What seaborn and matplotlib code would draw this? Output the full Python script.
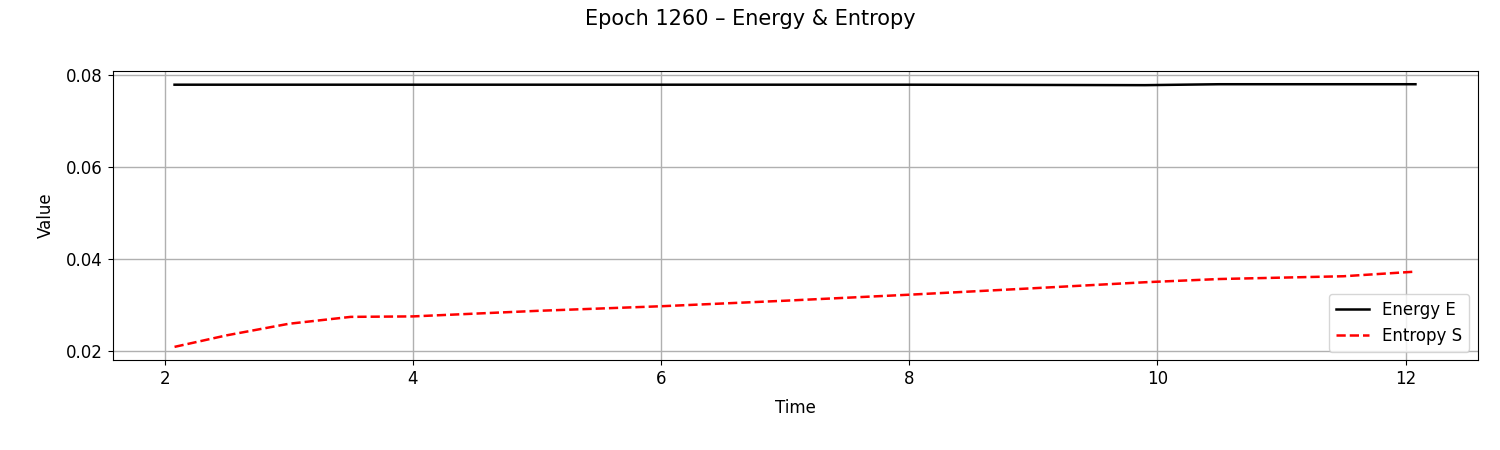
import numpy as np
import pandas as pd
import matplotlib
matplotlib.use("Agg")
import matplotlib.pyplot as plt
from matplotlib.ticker import MultipleLocator
import seaborn as sns

time = [2.08, 2.5, 3.0, 3.5, 4.0, 5.0, 6.0, 7.0, 8.0, 9.0, 9.9, 10.5, 11.0, 11.5, 12.08]
energy = [0.0778, 0.0778, 0.0778, 0.0778, 0.0778, 0.0778, 0.0778, 0.0778, 0.0778, 0.07775,
          0.0777, 0.0779, 0.0779, 0.0779, 0.0779]
entropy = [0.021, 0.0235, 0.026, 0.0275, 0.0276, 0.0288, 0.0298, 0.031, 0.0323, 0.0337,
           0.035, 0.0357, 0.036, 0.0363, 0.0373]

df = pd.DataFrame({"Time": time, "Energy E": energy, "Entropy S": entropy})

fig, ax = plt.subplots(figsize=(15, 4.5), dpi=100)
sns.lineplot(data=df, x="Time", y="Energy E", ax=ax, color="black", lw=1.8, label="Energy E")
sns.lineplot(data=df, x="Time", y="Entropy S", ax=ax, color="red", lw=1.8, ls="--", label="Entropy S")
ax.yaxis.set_major_locator(MultipleLocator(0.02))
ax.set_xlabel("Time", fontsize=12, labelpad=8)
ax.set_ylabel("Value", fontsize=12, labelpad=8)
ax.tick_params(labelsize=12)
ax.grid(True, color="#b0b0b0", lw=1)
ax.legend(loc="lower right", fontsize=12)
fig.suptitle("Epoch 1260 – Energy & Entropy", fontsize=15, y=0.98)
fig.subplots_adjust(left=0.075, right=0.985, top=0.842, bottom=0.2)
fig.savefig("out.png")
